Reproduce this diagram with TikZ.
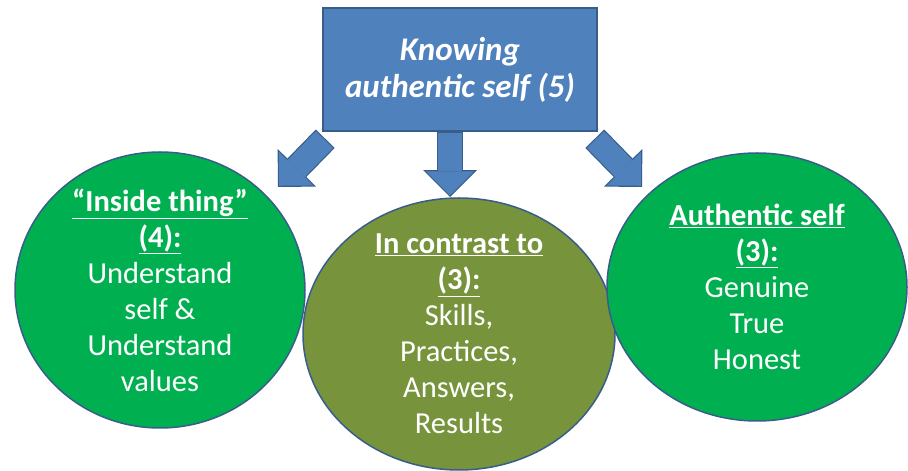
\documentclass[tikz,border=0pt]{standalone}
\usepackage{fontspec}
\setmainfont{Carlito}
\usetikzlibrary{arrows.meta,shapes.geometric}

\definecolor{boxblue}{HTML}{4F81BD}
\definecolor{edgeblue}{HTML}{385D8A}
\definecolor{leafgreen}{HTML}{00B050}
\definecolor{olivegreen}{HTML}{77933C}

\begin{document}
\begin{tikzpicture}[x=1pt, y=1pt,
    bubble/.style={ellipse, draw=edgeblue, line width=1.5pt, text=white, align=center,
        inner sep=-30pt, font=\fontsize{30.5}{36}\selectfont},
    arrowedge/.style={draw=edgeblue, line width=26.4pt,
        -{Triangle[length=26.9pt,width=53.8pt,line width=0pt]}},
    arrowfill/.style={draw=boxblue, line width=24pt,
        -{Triangle[length=24pt,width=48pt,line width=0pt]},
        shorten >=1.7pt, shorten <=1.2pt}]

\useasboundingbox (0,0) rectangle (908,471);

\node[draw=edgeblue, fill=boxblue, line width=1.5pt, minimum width=274pt, minimum height=123pt,
    text=white, align=center, font=\fontsize{33}{37}\selectfont\bfseries\itshape] (1) at (460,401.5)
{Knowing\\authentic self (5)};

\node[bubble, fill=leafgreen, minimum width=290pt, minimum height=276pt] (2) at (160,181)
{\textbf{\underline{“Inside thing”}}\\\textbf{\underline{(4):}}\\Understand\\self \&\\Understand\\values};

\node[bubble, fill=olivegreen, minimum width=312pt, minimum height=272pt] (3) at (459,137)
{\textbf{\underline{In contrast to}}\\\textbf{\underline{(3):}}\\Skills,\\Practices,\\Answers,\\Results};

\node[bubble, fill=leafgreen, minimum width=300pt, minimum height=268pt] (4) at (757,184)
{\textbf{\underline{Authentic self}}\\\textbf{\underline{(3):}}\\Genuine\\True\\Honest};

\coordinate (s2) at ([shift={(3,-7)}]1.south west);
\coordinate (s3) at ([xshift=-10pt]1.south);
\coordinate (s4) at ([shift={(-3,-7)}]1.south east);

\coordinate (t2) at (278,284);
\coordinate (t3) at (450,274);
\coordinate (t4) at (642,284);

\foreach \a/\b in {s2/t2, s3/t3, s4/t4}
{
\draw[arrowedge] (\a) -- (\b);
\draw[arrowfill] (\a) -- (\b);
}

\end{tikzpicture}
\end{document}
